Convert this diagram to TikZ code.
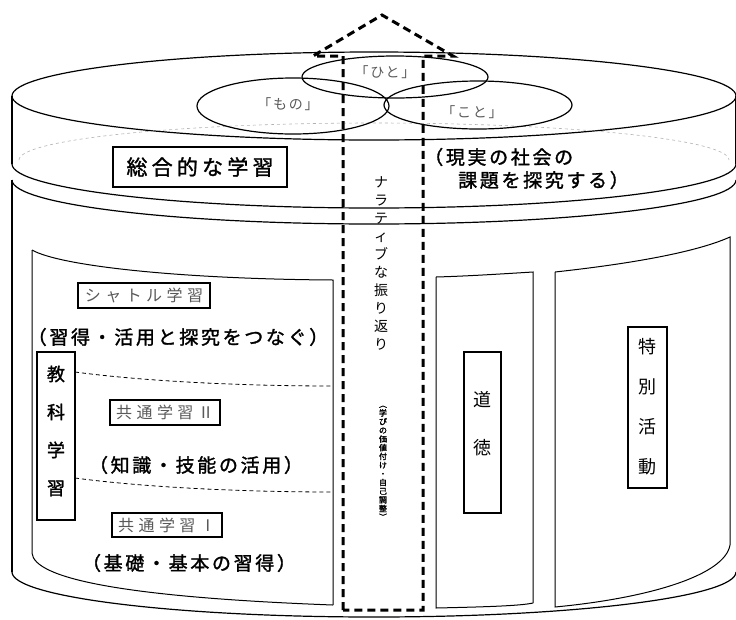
\documentclass[tikz,border=0pt]{standalone}
\usepackage{fontspec}
\setmainfont{Noto Sans CJK JP}[AutoFakeBold=1.5]
\begin{document}
\begin{tikzpicture}[x=1pt,y=1pt,yscale=-1,
  line/.style={line width=1.2pt},
  panel/.style={line width=1.0pt},
  lbl/.style={inner sep=0pt, text=black!65, font=\fontsize{14}{16}\selectfont\addfontfeatures{LetterSpace=12}},
  graybox/.style={draw, line width=1.1pt, inner sep=0pt, text=black!65, font=\fontsize{16}{18}\selectfont\addfontfeatures{LetterSpace=28}},
  boldtxt/.style={inner sep=0pt, font=\bfseries\fontsize{19}{22}\selectfont\addfontfeatures{LetterSpace=14}},
  vframe/.style={draw, line width=1.1pt, inner sep=0pt},
  vtext/.style={inner sep=0pt, align=center, font=\fontsize{18}{#1}\selectfont},
  arrowdash/.style={line width=3pt, dash pattern=on 8pt off 5pt, line join=miter},
  thindash/.style={line width=0.8pt, dash pattern=on 4pt off 3pt}
]
\useasboundingbox (0,0) rectangle (736,619);

% ---------- lid ----------
\draw[line] (374,96) ellipse[x radius=362, y radius=44];
\draw[line] (12,96) -- (12,164);
\draw[line] (736,96) -- (736,164);
\draw[line] (12,164) arc[start angle=180, end angle=0, x radius=362, y radius=44];
\draw[black!30, dashed, line width=0.6pt] (19,160) arc[start angle=180, end angle=360, x radius=355, y radius=37];

% three circles
\draw[line] (395,77) ellipse[x radius=93, y radius=21];
\draw[line] (293,106) ellipse[x radius=96, y radius=28];
\draw[line] (478,105) ellipse[x radius=94, y radius=24];
\node[lbl] (hito) at (385,72) {「ひと」};
\node[lbl] (mono) at (288,104) {「もの」};
\node[lbl] (koto) at (472,112) {「こと」};

\node[draw, line width=1.1pt, minimum width=174pt, minimum height=40pt, inner sep=0pt,
      font=\bfseries\fontsize{21}{24}\selectfont\addfontfeatures{LetterSpace=20}] (sogo) at (200,167) {総合的な学習};
\node[boldtxt, anchor=west] (gen1) at (424,157) {（現実の社会の};
\node[boldtxt, anchor=west] (gen2) at (458,180) {課題を探究する）};

% ---------- body ----------
\draw[line] (12,180) arc[start angle=180, end angle=0, x radius=362, y radius=44];
\draw[line] (12,180) -- (12,572);
\draw[line] (12,572) arc[start angle=180, end angle=0, x radius=362, y radius=45];

% left panel
\draw[panel] (32,250) .. controls (60,266) and (180,279) .. (333,280) -- (333,605);
\draw[panel] (32,250) -- (32,553) .. controls (34,578) and (120,597) .. (333,605);
\draw[thindash] (75,372) .. controls (150,382) and (250,386) .. (333,386);
\draw[thindash] (75,478) .. controls (150,488) and (250,492) .. (333,492);

\node[graybox, minimum width=132pt, minimum height=25pt] (shuttle) at (144,295.5) {シャトル学習};
\node[boldtxt] (shutxt) at (178,337) {（習得・活用と探究をつなぐ）};
\node[vframe, fill=white, minimum width=38pt, minimum height=168pt] (kyoka) at (56,436) {};
\node[vtext=38, font=\bfseries\fontsize{18}{38}\selectfont] (kyokat) at (56,431) {教\\科\\学\\習};
\node[graybox, minimum width=110pt, minimum height=25pt] (k2) at (165,412.5) {共通学習Ⅱ};
\node[boldtxt] (k2txt) at (196,465) {（知識・技能の活用）};
\node[graybox, minimum width=110pt, minimum height=24pt] (k1) at (167,525) {共通学習Ⅰ};
\node[boldtxt] (k1txt) at (189,563) {（基礎・基本の習得）};

% moral panel
\draw[panel] (436,277) .. controls (470,276) and (500,274) .. (533,272) -- (533,603);
\draw[panel] (436,277) -- (436,608) .. controls (480,607) and (520,606) .. (533,603);
\node[vframe, minimum width=37pt, minimum height=161pt] (dotoku) at (482.5,432.5) {};
\node[vtext=48] (dotokut) at (482.5,424) {道\\徳};

% special activities panel
\draw[panel] (555,272) .. controls (610,266) and (690,255) .. (730,237) -- (730,545);
\draw[panel] (555,272) -- (555,607) .. controls (650,598) and (725,575) .. (730,545);
\node[vframe, minimum width=39pt, minimum height=161pt] (tokubetsu) at (647.5,407.5) {};
\node[vtext=40] (tokut) at (647.5,407) {特\\別\\活\\動};

% ---------- narrative column ----------
\draw[arrowdash] (343,610) -- (343,56) -- (313,56) -- (382,15) -- (453,56) -- (423,56) -- (423,610) -- cycle;
\node[inner sep=0pt, align=center, text=black, font=\fontsize{14}{18}\selectfont] (narr) at (381,263)
  {ナ\\ラ\\テ\\ィ\\ブ\\な\\振\\り\\返\\り};
\node[inner sep=0pt, align=center, font=\bfseries\fontsize{8}{8.7}\selectfont] (manabi) at (383,463)
  {︵\\学\\び\\の\\価\\値\\付\\け\\・\\自\\己\\調\\整\\︶};
\end{tikzpicture}
\end{document}
